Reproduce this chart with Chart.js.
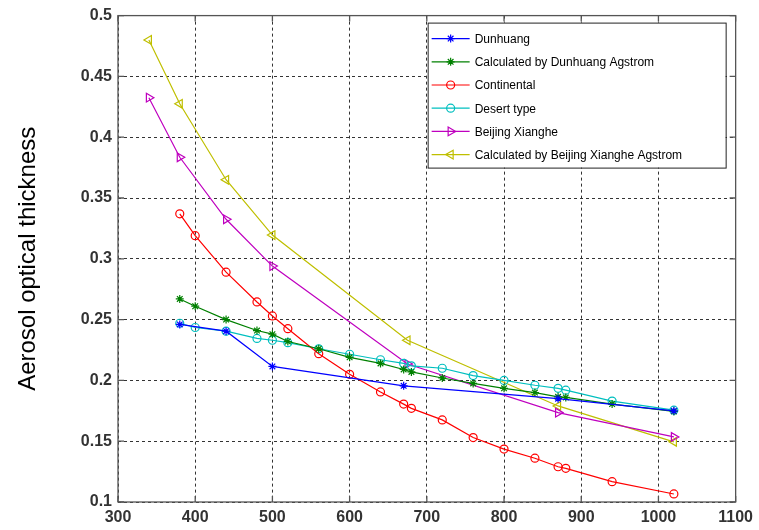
<!DOCTYPE html>
<html>
<head>
<meta charset="utf-8">
<script src="https://cdn.jsdelivr.net/npm/chart.js@4/dist/chart.umd.min.js"></script>
<style>
  html,body{margin:0;padding:0;background:#fff;}
  #wrap{width:759px;height:530px;}
</style>
</head>
<body>
<div id="wrap"><canvas id="c" width="759" height="530"></canvas></div>
<script>
// wavelengths (nm)
const waveFull = [380,400,440,480,500,520,560,600,640,670,680,720,760,800,840,870,880,940,1020];
const waveDunhuang = [380,440,500,670,870,1020];
const waveXianghe = [340,380,440,500,675,870,1020];

// aerosol optical thickness
const dunhuang = [0.246,0.2405,0.2115,0.1955,0.185,0.175];
const calcDunhuang = [0.267,0.261,0.250,0.241,0.238,0.232,0.226,0.219,0.214,0.209,0.207,0.202,0.1975,0.1935,0.190,0.1865,0.186,0.1805,0.1745];
const continental = [0.337,0.319,0.289,0.2645,0.253,0.2425,0.222,0.205,0.1905,0.1805,0.177,0.1675,0.153,0.1435,0.136,0.129,0.1277,0.1167,0.1066];
const desertType = [0.247,0.2435,0.2405,0.2345,0.233,0.231,0.226,0.2215,0.217,0.214,0.212,0.210,0.204,0.200,0.196,0.1935,0.192,0.183,0.1755];
const xianghe = [0.4325,0.3835,0.3325,0.294,0.2135,0.1735,0.1535];
const calcXianghe = [0.480,0.4275,0.365,0.3195,0.233,0.179,0.1495];

const labels = ['Dunhuang','Calculated by Dunhuang Agstrom','Continental','Desert type','Beijing Xianghe','Calculated by Beijing Xianghe Agstrom'];
const xTicks = [300,400,500,600,700,800,900,1000,1100];
const yTicks = [0.1,0.15,0.2,0.25,0.3,0.35,0.4,0.45,0.5];

const pts=(xs,ys)=>xs.map((x,i)=>({x:x,y:ys[i]}));
const mk=(label,xs,ys,color,style,rot,r)=>({
  label, data:pts(xs,ys), borderColor:color, backgroundColor:'rgba(0,0,0,0)',
  borderWidth:1.2, pointStyle:style, rotation:rot||0, pointRadius:r||4,
  pointBorderWidth:1.2, pointBorderColor:color, pointBackgroundColor:style==='star'?color:'rgba(0,0,0,0)',
  tension:0, showLine:true
});

const datasets=[
  mk(labels[0],waveDunhuang,dunhuang,'#0000ff','star',0,4),
  mk(labels[1],waveFull,calcDunhuang,'#008000','star',0,4),
  mk(labels[2],waveFull,continental,'#ff0000','circle',0,4),
  mk(labels[3],waveFull,desertType,'#00bfbf','circle',0,4),
  mk(labels[4],waveXianghe,xianghe,'#bf00bf','triangle',90,5),
  mk(labels[5],waveXianghe,calcXianghe,'#bfbf00','triangle',270,5),
];

// box round the axes, inward tick marks, legend inside the plot
const frame={
  id:'frame',
  afterDraw(chart){
    const {ctx,chartArea:a,scales}=chart;
    ctx.save();
    ctx.strokeStyle='#555'; ctx.lineWidth=1.3;
    ctx.strokeRect(a.left,a.top,a.right-a.left,a.bottom-a.top);
    ctx.beginPath();
    xTicks.forEach(v=>{const x=scales.x.getPixelForValue(v);
      ctx.moveTo(x,a.bottom);ctx.lineTo(x,a.bottom-6);ctx.moveTo(x,a.top);ctx.lineTo(x,a.top+6);});
    yTicks.forEach(v=>{const y=scales.y.getPixelForValue(v);
      ctx.moveTo(a.left,y);ctx.lineTo(a.left+6,y);ctx.moveTo(a.right,y);ctx.lineTo(a.right-6,y);});
    ctx.stroke();

    // legend
    const bx=a.right-10, by=a.top+7, bw=298, bh=145;
    const L=bx-bw;
    ctx.fillStyle='#fff'; ctx.fillRect(L,by,bw,bh);
    ctx.strokeStyle='#222'; ctx.lineWidth=1; ctx.strokeRect(L+0.5,by+0.5,bw,bh);
    ctx.font='12px "Liberation Sans", Arial, sans-serif';
    ctx.textBaseline='middle'; ctx.textAlign='left';
    chart.data.datasets.forEach((d,i)=>{
      const y=by+16+i*23.2;
      ctx.strokeStyle=d.borderColor; ctx.lineWidth=1.2;
      ctx.beginPath(); ctx.moveTo(L+4,y); ctx.lineTo(L+42,y); ctx.stroke();
      ctx.fillStyle=d.pointBackgroundColor;
      Chart.helpers.drawPoint(ctx,{pointStyle:d.pointStyle,rotation:d.rotation,radius:d.pointRadius,borderWidth:1.2},L+23,y);
      ctx.fillStyle='#000';
      ctx.fillText(d.label,L+47,y+1);
    });
    ctx.restore();
  }
};

const tickFont={family:'"Liberation Sans", Arial, sans-serif',size:16,weight:'bold'};
new Chart(document.getElementById('c'),{
  type:'line',
  data:{datasets},
  options:{
    responsive:false, animation:false,
    layout:{padding:{top:15,right:21,left:0,bottom:0}},
    plugins:{legend:{display:false},tooltip:{enabled:false}},
    scales:{
      x:{type:'linear',min:300,max:1100,
        afterBuildTicks:s=>{s.ticks=xTicks.map(v=>({value:v}));},
        afterFit:s=>{s.height=28;},
        ticks:{font:tickFont,color:'#333',padding:6,maxRotation:0,callback:v=>String(v)},
        grid:{color:'#333',lineWidth:1,drawTicks:false},
        border:{display:false,dash:[3,3]}
      },
      y:{min:0.1,max:0.5,
        afterBuildTicks:s=>{s.ticks=yTicks.map(v=>({value:v}));},
        afterFit:s=>{s.width=118;},
        ticks:{font:tickFont,color:'#333',padding:6,callback:v=>String(+v.toFixed(2))},
        grid:{color:'#333',lineWidth:1,drawTicks:false},
        border:{display:false,dash:[3,3]},
        title:{display:true,text:'Aerosol optical thickness',color:'#000',
          font:{family:'"Liberation Sans", Arial, sans-serif',size:24},padding:{top:14,bottom:0}}
      }
    }
  },
  plugins:[frame]
});
</script>
</body>
</html>
